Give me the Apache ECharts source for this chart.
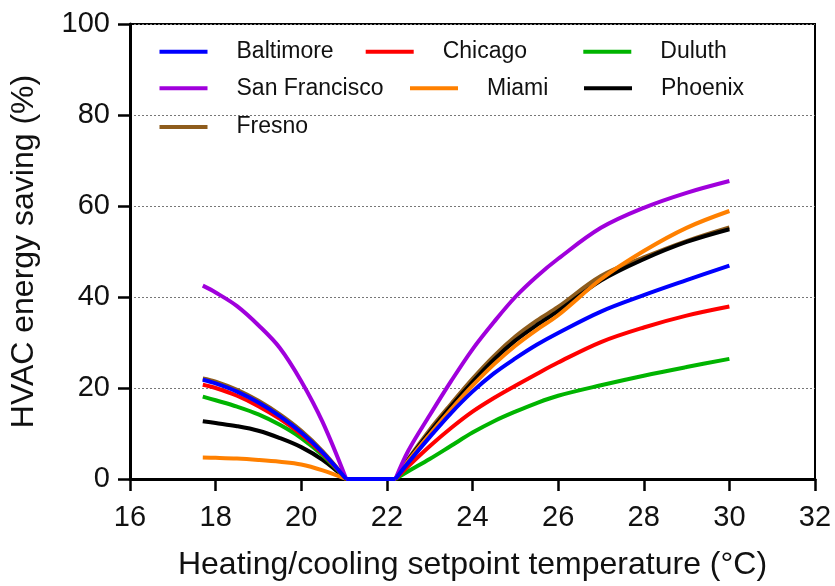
<!DOCTYPE html>
<html>
<head>
<meta charset="utf-8">
<script src="https://cdn.jsdelivr.net/npm/echarts@6/dist/echarts.min.js"></script>
<style>
html,body{margin:0;padding:0;background:#fff;}
#chart{width:835px;height:586px;}
</style>
</head>
<body>
<div id="chart"></div>
<script>
// Setpoint temperatures (°C): heating side then cooling side
const heatTemps = [17.7, 18, 18.5, 19, 19.5, 20, 20.5, 21.05];
const coolTemps = [22.2, 22.5, 23, 23.5, 24, 24.5, 25, 25.5, 26, 27, 28, 29, 30];

// HVAC energy saving (%) per city: heating side values, cooling side values
const baltimoreHeat    = [21.8, 21.0, 19.2, 16.8, 13.8, 10.2, 5.8, 0];
const baltimoreCool    = [0, 3.6, 9.2, 14.5, 19.2, 23.2, 26.5, 29.5, 32.1, 36.8, 40.4, 43.7, 46.9];
const chicagoHeat      = [20.7, 20.0, 18.3, 16.0, 13.2, 9.8, 5.6, 0];
const chicagoCool      = [0, 2.8, 7.2, 11.2, 14.8, 17.8, 20.5, 23.1, 25.6, 30.1, 33.3, 35.9, 37.9];
const duluthHeat       = [18.1, 17.3, 15.9, 14.2, 11.9, 9.0, 5.2, 0];
const duluthCool       = [0, 1.7, 4.4, 7.3, 10.2, 12.7, 14.8, 16.7, 18.3, 20.6, 22.7, 24.6, 26.4];
const sanFranciscoHeat = [42.5, 41.0, 38.0, 33.8, 28.8, 21.5, 12.5, 0];
const sanFranciscoCool = [0, 6.2, 14.0, 21.5, 28.5, 34.5, 40.0, 44.5, 48.4, 55.2, 59.6, 62.9, 65.5];
const miamiHeat        = [4.7, 4.65, 4.5, 4.2, 3.8, 3.2, 1.9, 0];
const miamiCool        = [0, 4.0, 9.8, 15.3, 20.5, 25.2, 29.3, 32.8, 36.0, 43.9, 50.1, 55.2, 58.9];
const phoenixHeat      = [12.7, 12.3, 11.6, 10.6, 9.0, 7.0, 4.2, 0];
const phoenixCool      = [0, 4.2, 10.3, 16.0, 21.3, 26.2, 30.4, 33.8, 36.9, 43.6, 48.3, 52.1, 54.9];
const fresnoHeat       = [22.1, 21.4, 19.6, 17.2, 14.2, 10.6, 6.1, 0];
const fresnoCool       = [0, 4.4, 10.8, 16.5, 22.0, 27.0, 31.3, 34.8, 37.8, 44.6, 48.7, 52.3, 55.3];

const xTicks = [16, 18, 20, 22, 24, 26, 28, 30, 32];
const yTicks = [0, 20, 40, 60, 80, 100];

const FONT = "'Liberation Sans', Arial, Helvetica, sans-serif";

// drawing order (bottom to top)
const cities = [
  {name: 'Fresno',        heat: fresnoHeat,       cool: fresnoCool,       color: '#8E5C1C'},
  {name: 'Phoenix',       heat: phoenixHeat,      cool: phoenixCool,      color: '#000000'},
  {name: 'Miami',         heat: miamiHeat,        cool: miamiCool,        color: '#FF8000'},
  {name: 'Duluth',        heat: duluthHeat,       cool: duluthCool,       color: '#00B400'},
  {name: 'Chicago',       heat: chicagoHeat,      cool: chicagoCool,      color: '#FF0000'},
  {name: 'San Francisco', heat: sanFranciscoHeat, cool: sanFranciscoCool, color: '#A000DC'},
  {name: 'Baltimore',     heat: baltimoreHeat,    cool: baltimoreCool,    color: '#0000FF'}
];

const legendPos = {
  'Baltimore':     [159.5, 51.7],
  'Chicago':       [365.7, 51.7],
  'Duluth':        [583.3, 51.7],
  'San Francisco': [159.5, 88.3],
  'Miami':         [410,   88.3],
  'Phoenix':       [584,   88.3],
  'Fresno':        [159.5, 127]
};

const legends = Object.keys(legendPos).map(n => ({
  data: [n],
  left: legendPos[n][0],
  top: legendPos[n][1] - 12,
  padding: 0,
  icon: 'rect',
  itemWidth: 48,
  itemHeight: 4,
  selectedMode: false,
  textStyle: {fontFamily: FONT, fontSize: 23, color: '#111', lineHeight: 24, padding: [0, 0, 0, 24]}
}));

function lineSeries(name, color, data, smooth) {
  return {
    name: name,
    type: 'line',
    data: data,
    showSymbol: false,
    symbol: 'none',
    smooth: smooth,
    color: color,
    lineStyle: {color: color, width: 4},
    emphasis: {disabled: true}
  };
}

const series = [];
cities.forEach(c => {
  series.push(lineSeries(c.name, c.color, heatTemps.map((t, i) => [t, c.heat[i]]), 0.35));
  series.push(lineSeries(c.name, c.color, [[heatTemps[heatTemps.length - 1], c.heat[c.heat.length - 1]], [coolTemps[0], c.cool[0]]], false));
  series.push(lineSeries(c.name, c.color, coolTemps.map((t, i) => [t, c.cool[i]]), 0.35));
});

const chart = echarts.init(document.getElementById('chart'), null, {renderer: 'canvas'});
chart.setOption({
  animation: false,
  backgroundColor: '#fff',
  grid: {left: 129.5, right: 20, top: 24, bottom: 105.5, show: true, borderColor: '#000', borderWidth: 2, backgroundColor: 'transparent'},
  legend: legends,
  xAxis: {
    type: 'value', min: xTicks[0], max: xTicks[xTicks.length - 1], interval: 2,
    name: 'Heating/cooling setpoint temperature (°C)',
    nameLocation: 'middle', nameGap: 70,
    nameTextStyle: {fontFamily: FONT, fontSize: 32, color: '#111'},
    axisLine: {show: true, onZero: false, lineStyle: {color: '#000', width: 3}},
    axisTick: {show: true, inside: false, length: 12, lineStyle: {color: '#000', width: 2.5}},
    axisLabel: {fontFamily: FONT, fontSize: 29, color: '#111', margin: 24},
    splitLine: {show: false}
  },
  yAxis: {
    type: 'value', min: yTicks[0], max: yTicks[yTicks.length - 1], interval: 20,
    name: 'HVAC energy saving (%)',
    nameLocation: 'middle', nameGap: 90,
    nameTextStyle: {fontFamily: FONT, fontSize: 32, color: '#111'},
    axisLine: {show: true, onZero: false, lineStyle: {color: '#000', width: 3}},
    axisTick: {show: true, inside: false, length: 12, lineStyle: {color: '#000', width: 2.5}},
    axisLabel: {fontFamily: FONT, fontSize: 29, color: '#111', margin: 20},
    splitLine: {show: true, lineStyle: {color: '#777', width: 1, type: [2, 2]}}
  },
  series: series
});
</script>
</body>
</html>
